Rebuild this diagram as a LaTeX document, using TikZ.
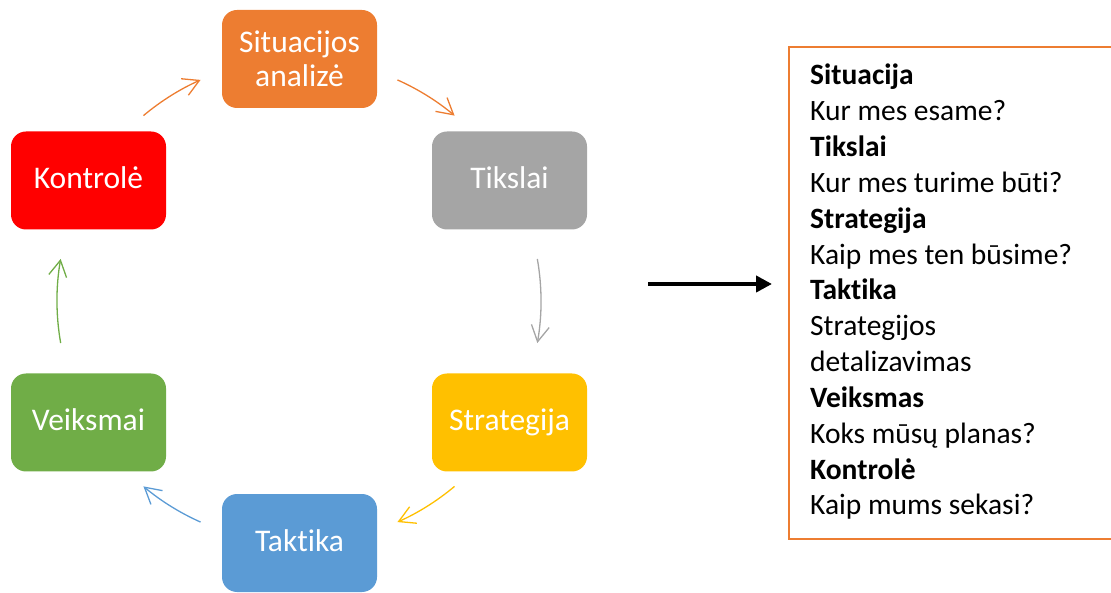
\documentclass[tikz,border=0pt]{standalone}
\usepackage{fontspec}
\setmainfont{Carlito}[Ligatures=NoCommon]
\usetikzlibrary{arrows.meta,calc}
\definecolor{corange}{HTML}{ED7D31}
\definecolor{cgray}{HTML}{A5A5A5}
\definecolor{cyellow}{HTML}{FFC000}
\definecolor{cblue}{HTML}{5B9BD5}
\definecolor{cgreen}{HTML}{70AD47}
\definecolor{cred}{HTML}{FF0000}
\begin{document}
\begin{tikzpicture}[x=1pt,y=1pt,
  stage/.style={rounded corners=15pt, minimum width=155pt, minimum height=98pt,
    inner sep=0pt, text=white, font=\fontsize{31.5}{34.5}\selectfont},
  stageone/.style={stage, text height=17pt, text depth=0pt},
  cyc/.style={line width=1.3pt, -{Straight Barb[length=16pt,width=18pt,line width=1.3pt]}},
  bigarrow/.style={line width=4pt, -{Triangle[length=16pt,width=16pt]}},
  boxline/.style={anchor=base west, inner sep=0pt, font=\fontsize{29.5}{35.8}\selectfont}
]
\useasboundingbox (0,0) rectangle (1111,592);
\clip (0,0) rectangle (1111,592);

% cycle centre
\coordinate (c) at (299,291);

% stages
\node[stage, fill=corange, align=center] (sit) at (299.5,533) {Situacijos\\analizė};
\node[stageone, fill=cgray] (tik) at (509.5,411.5) {Tikslai};
\node[stageone, fill=cyellow] (str) at (509.5,169.5) {Strategija};
\node[stageone, fill=cblue] (tak) at (299.5,49) {Taktika};
\node[stageone, fill=cgreen] (vei) at (88.5,169.5) {Veiksmai};
\node[stageone, fill=cred] (kon) at (88.5,411.5) {Kontrolė};

% cycle arrows
\draw[cyc, corange] ($(c)+(130:242pt)$) arc[start angle=130, end angle=114, radius=242pt];
\draw[cyc, corange] ($(c)+(66:242pt)$) arc[start angle=66, end angle=50, radius=242pt];
\draw[cyc, cgray] ($(c)+(10:242pt)$) arc[start angle=10, end angle=-10, radius=242pt];
\draw[cyc, cyellow] ($(c)+(-50:242pt)$) arc[start angle=-50, end angle=-66, radius=242pt];
\draw[cyc, cblue] ($(c)+(-114:242pt)$) arc[start angle=-114, end angle=-130, radius=242pt];
\draw[cyc, cgreen] ($(c)+(190:242pt)$) arc[start angle=190, end angle=170, radius=242pt];

% big arrow
\coordinate (a1) at (648,308);
\coordinate (a2) at (772,308);
\draw[bigarrow] (a1) -- (a2);

% text box
\draw[corange, line width=2.5pt] (789,545) rectangle (1130,53);
\foreach \t [count=\i] in {\textbf{Situacija}, Kur mes esame?, \textbf{Tikslai},
  Kur mes turime būti?, \textbf{Strategija}, Kaip mes ten būsime?, \textbf{Taktika},
  Strategijos, detalizavimas, \textbf{Veiksmas}, Koks mūsų planas?,
  \textbf{Kontrolė}, Kaip mums sekasi?}
  \node[boxline] (line\i) at (810,{507-35.83*(\i-1)}) {\t};
\end{tikzpicture}
\end{document}
